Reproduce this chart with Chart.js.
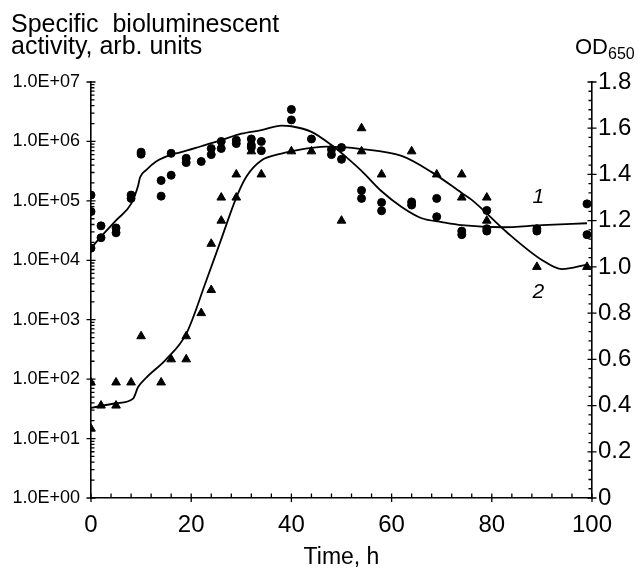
<!DOCTYPE html>
<html>
<head>
<meta charset="utf-8">
<script src="https://cdn.jsdelivr.net/npm/chart.js@4.4.0/dist/chart.umd.min.js"></script>
<style>
  body { margin: 0; background: #fff; }
  #wrap { position: relative; width: 639px; height: 569px; font-family: 'Liberation Sans', Arial, sans-serif; color: #000; }
  #grafico { position: absolute; left: 0; top: 0; }
  .lbl { position: absolute; white-space: nowrap; }
</style>
</head>
<body>
<div id="wrap">
  <canvas id="grafico" width="639" height="569"></canvas>
  <div class="lbl" style="left:11px; top:12px; font-size:25px; line-height:22px;">Specific&nbsp; bioluminescent<br>activity, arb. units</div>
  <div class="lbl" style="left:575px; top:36px; font-size:22px; line-height:22px;">OD<span style="font-size:16px; position:relative; top:5px;">650</span></div>
</div>
<script>
// tick labels
var xTicks = [0, 20, 40, 60, 80, 100]
var leftTicks = [1, 10, 100, 1e3, 1e4, 1e5, 1e6, 1e7]
var rightTicks = [0, 0.2, 0.4, 0.6, 0.8, 1.0, 1.2, 1.4, 1.6, 1.8]

// circles - specific bioluminescent activity (left, log)
var lumTime = [
  0, 0, 0,
  2, 2,
  5, 5,
  8, 8,
  10, 10,
  14, 14,
  16, 16,
  19, 19,
  22,
  24, 24,
  26, 26,
  29, 29,
  32, 32, 32,
  34, 34,
  40, 40,
  44,
  48, 48,
  50, 50,
  54, 54,
  58, 58,
  64, 64,
  69, 69,
  74, 74,
  79, 79, 79,
  89, 89,
  99, 99]
var lumValue = [
  1.25e5, 6.6e4, 1.6e4,
  3.8e4, 2.4e4,
  3.5e4, 2.9e4,
  1.25e5, 1.1e5,
  6.6e5, 6.1e5,
  2.2e5, 1.2e5,
  2.7e5, 6.3e5,
  5.2e5, 4.4e5,
  4.6e5,
  7.6e5, 6.0e5,
  1.0e6, 7.6e5,
  1.05e6, 9.2e5,
  1.1e6, 8.7e5, 7.9e5,
  1.0e6, 7.0e5,
  3.45e6, 2.3e6,
  1.1e6,
  7.3e5, 6.0e5,
  7.9e5, 5.0e5,
  1.5e5, 1.1e5,
  9.4e4, 6.8e4,
  9.6e4, 8.5e4,
  1.1e5, 5.4e4,
  3.1e4, 2.7e4,
  6.9e4, 3.4e4, 3.1e4,
  3.4e4, 3.1e4,
  8.9e4, 2.7e4]

// triangles - OD650 (right axis)
var odTime = [0, 0, 2, 5, 5, 8, 10, 14, 16, 19, 19, 22, 24, 24, 26, 26, 29, 29, 32, 34,
  40, 44, 50, 54, 54, 58, 64, 69, 74, 74, 79, 79, 89, 99]
var odValue = [0.5, 0.3, 0.4, 0.5, 0.4, 0.5, 0.7, 0.5, 0.6, 0.7, 0.6, 0.8, 0.9, 1.1, 1.2, 1.3, 1.3, 1.4, 1.5, 1.4,
  1.5, 1.5, 1.2, 1.6, 1.5, 1.4, 1.5, 1.4, 1.4, 1.3, 1.3, 1.2, 1.0, 1.0]

// curve 1 (left, log)
var curve1Time = [0, 2, 5, 8, 9.4, 9.8, 11, 13, 16, 18, 22, 26, 30, 34, 38, 40, 44, 48, 51, 54, 58, 62, 66, 70, 74, 82, 90, 99]
var curve1Value = [1.6e4, 2.5e4, 4.7e4, 8.9e4, 1.8e5, 2.5e5, 3.3e5, 4.6e5, 6.0e5, 6.6e5, 8.3e5, 1.05e6, 1.35e6, 1.55e6, 1.85e6, 1.8e6,
  1.45e6, 8.7e5, 5.4e5, 3.2e5, 1.45e5, 7.9e4, 5.1e4, 4.4e4, 3.9e4, 3.6e4, 3.9e4, 4.2e4]

// curve 2 (right, OD)
var curve2Time = [0, 5, 8.4, 9.4, 11, 15, 19, 23, 26, 29, 31, 34, 38, 40, 47, 54, 62, 68, 74, 76, 83, 90, 94, 99]
var curve2Value = [0.39, 0.41, 0.43, 0.48, 0.52, 0.60, 0.71, 0.94, 1.12, 1.30, 1.39, 1.46, 1.49, 1.50, 1.52, 1.51,
  1.48, 1.41, 1.32, 1.29, 1.15, 1.03, 0.99, 1.01]

// curve numbers (time, OD)
var curveLabels = [
  { text: '1', t: 89.3, od: 1.30 },
  { text: '2', t: 89.3, od: 0.89 }
]

function pares(xs, ys) {
  return xs.map(function (x, i) { return { x: x, y: ys[i] } })
}

Chart.defaults.font.family = "'Liberation Sans', Arial, sans-serif"
Chart.defaults.color = '#000'

// tick marks (major both sides, minor inward) and curve numbers
var marcas = {
  id: 'marcas',
  afterDraw: function (chart) {
    var ctx = chart.ctx
    var a = chart.chartArea
    var sx = chart.scales.x, sl = chart.scales.y, sr = chart.scales.y2
    ctx.save()
    ctx.strokeStyle = '#000'
    ctx.lineWidth = 1.3
    ctx.beginPath()
    for (var e = 0; e < 7; e++) {
      for (var m = 2; m <= 9; m++) {
        var py = sl.getPixelForValue(m * Math.pow(10, e))
        ctx.moveTo(a.left, py); ctx.lineTo(a.left + 3.5, py)
      }
    }
    leftTicks.forEach(function (v) {
      var py = sl.getPixelForValue(v)
      ctx.moveTo(a.left - 4.5, py); ctx.lineTo(a.left + 4.5, py)
    })
    for (var i = 0; i <= 45; i++) {
      var py2 = sr.getPixelForValue(i * 0.04)
      if (i % 5 == 0) {
        ctx.moveTo(a.right - 4.5, py2); ctx.lineTo(a.right + 4.5, py2)
      } else {
        ctx.moveTo(a.right - 3.5, py2); ctx.lineTo(a.right, py2)
      }
    }
    for (var j = 0; j <= 25; j++) {
      var px = sx.getPixelForValue(j * 4)
      if ((j * 4) % 20 == 0) {
        ctx.moveTo(px, a.bottom - 4.5); ctx.lineTo(px, a.bottom + 4)
      } else {
        ctx.moveTo(px, a.bottom - 4.5); ctx.lineTo(px, a.bottom)
      }
    }
    ctx.stroke()

    ctx.fillStyle = '#000'
    ctx.font = "italic 21px 'Liberation Sans', Arial, sans-serif"
    ctx.textAlign = 'center'
    ctx.textBaseline = 'middle'
    curveLabels.forEach(function (c) {
      ctx.fillText(c.text, sx.getPixelForValue(c.t), sr.getPixelForValue(c.od))
    })
    ctx.restore()
  }
}

var config = {
  type: 'scatter',
  data: {
    datasets: [
      {
        type: 'line', label: 'curva 1', data: pares(curve1Time, curve1Value), yAxisID: 'y',
        borderColor: '#000', borderWidth: 1.8, pointRadius: 0, cubicInterpolationMode: 'monotone', fill: false
      },
      {
        type: 'line', label: 'curva 2', data: pares(curve2Time, curve2Value), yAxisID: 'y2',
        borderColor: '#000', borderWidth: 1.8, pointRadius: 0, cubicInterpolationMode: 'monotone', fill: false
      },
      {
        type: 'scatter', label: 'luminescencia', data: pares(lumTime, lumValue), yAxisID: 'y',
        pointStyle: 'circle', pointRadius: 4, backgroundColor: '#000', borderColor: '#000', borderWidth: 1
      },
      {
        type: 'scatter', label: 'OD650', data: pares(odTime, odValue), yAxisID: 'y2',
        pointStyle: 'triangle', pointRadius: 5, backgroundColor: '#000', borderColor: '#000', borderWidth: 1
      }
    ]
  },
  options: {
    responsive: false,
    animation: false,
    layout: { padding: { top: 82, left: 0, right: 0, bottom: 0 } },
    plugins: { legend: { display: false }, tooltip: { enabled: false } },
    scales: {
      x: {
        type: 'linear', position: 'bottom', min: 0, max: 100,
        afterBuildTicks: function (s) { s.ticks = xTicks.map(function (v) { return { value: v } }) },
        afterFit: function (s) { s.height = 71 },
        grid: { drawOnChartArea: false, drawTicks: false },
        border: { color: '#000', width: 1.6 },
        ticks: { color: '#000', font: { size: 24 }, padding: 13, maxRotation: 0, autoSkip: false },
        title: { display: true, text: 'Time, h', color: '#000', font: { size: 23, lineHeight: 1 }, padding: { top: 0, bottom: 0 } }
      },
      y: {
        type: 'logarithmic', position: 'left', min: 1, max: 1e7,
        afterBuildTicks: function (s) { s.ticks = leftTicks.map(function (v) { return { value: v } }) },
        afterFit: function (s) { s.width = 91 },
        grid: { drawOnChartArea: false, drawTicks: false },
        border: { color: '#000', width: 1.6 },
        ticks: {
          color: '#000', font: { size: 18 }, padding: 11, autoSkip: false,
          callback: function (v) { return '1.0E+' + String(Math.round(Math.log10(v))).padStart(2, '0') }
        }
      },
      y2: {
        type: 'linear', position: 'right', min: 0, max: 1.8,
        afterBuildTicks: function (s) { s.ticks = rightTicks.map(function (v) { return { value: v } }) },
        afterFit: function (s) { s.width = 47 },
        grid: { drawOnChartArea: false, drawTicks: false },
        border: { color: '#000', width: 1.6 },
        ticks: {
          color: '#000', font: { size: 24 }, padding: 6, autoSkip: false,
          callback: function (v) { return v == 0 ? '0' : v.toFixed(1) }
        }
      }
    }
  },
  plugins: [marcas]
}

var grafico = new Chart(document.getElementById('grafico'), config)
</script>
</body>
</html>
